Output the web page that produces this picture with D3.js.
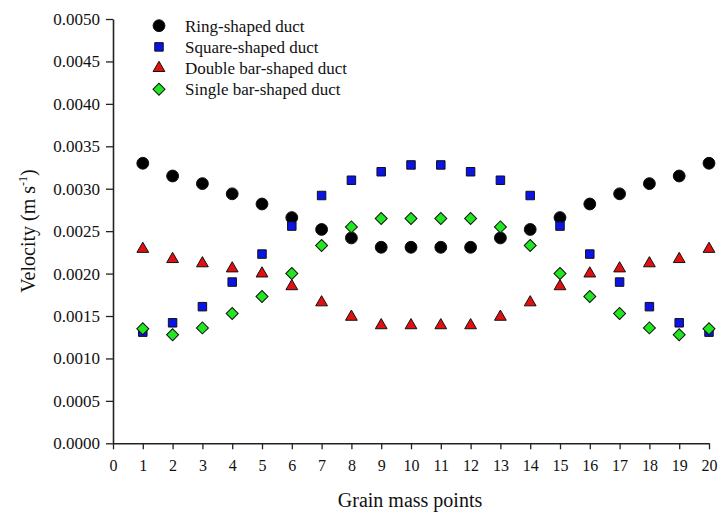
<!DOCTYPE html>
<html>
<head>
<meta charset="utf-8">
<script src="https://cdn.jsdelivr.net/npm/d3@7"></script>
<style>
  html, body { margin: 0; padding: 0; background: #fff; }
  svg { display: block; }
  text { font-family: "Liberation Serif", "Times New Roman", serif; fill: #111; }
</style>
</head>
<body>
<svg id="chart" width="719" height="512"></svg>
<script>
// ---- data ----
const points = [1,2,3,4,5,6,7,8,9,10,11,12,13,14,15,16,17,18,19,20];
const ring   = [0.00330,0.00315,0.00306,0.00294,0.00282,0.00266,0.00252,0.00242,0.00231,0.00231,0.00231,0.00231,0.00242,0.00252,0.00266,0.00282,0.00294,0.00306,0.00315,0.00330];
const square = [0.00131,0.00142,0.00161,0.00190,0.00223,0.00256,0.00292,0.00310,0.00320,0.00328,0.00328,0.00320,0.00310,0.00292,0.00256,0.00223,0.00190,0.00161,0.00142,0.00131];
const dbar   = [0.00229,0.00217,0.00212,0.00206,0.00200,0.00185,0.00166,0.00149,0.00139,0.00139,0.00139,0.00139,0.00149,0.00166,0.00185,0.00200,0.00206,0.00212,0.00217,0.00229];
const sbar   = [0.00135,0.00128,0.00136,0.00153,0.00173,0.00200,0.00233,0.00255,0.00265,0.00265,0.00265,0.00265,0.00255,0.00233,0.00200,0.00173,0.00153,0.00136,0.00128,0.00135];
const seriesNames = ["Ring-shaped duct","Square-shaped duct","Double bar-shaped duct","Single bar-shaped duct"];
const xTicks = [0,1,2,3,4,5,6,7,8,9,10,11,12,13,14,15,16,17,18,19,20];
const yTicks = [0,0.0005,0.0010,0.0015,0.0020,0.0025,0.0030,0.0035,0.0040,0.0045,0.0050];

const series = [
  {name: seriesNames[0], values: ring,   symbol: d3.symbolCircle,   size: 110, rot: 0,  fill: "#000000"},
  {name: seriesNames[1], values: square, symbol: d3.symbolSquare,   size: 72,  rot: 0,  fill: "#0a14e6"},
  {name: seriesNames[2], values: dbar,   symbol: d3.symbolTriangle, size: 60,  rot: 0,  fill: "#e01010"},
  {name: seriesNames[3], values: sbar,   symbol: d3.symbolSquare,   size: 72,  rot: 45, fill: "#22e622"}
];

const svg = d3.select("#chart");
const x = d3.scaleLinear().domain([0, 20]).range([113, 709]);
const y = d3.scaleLinear().domain([0, 0.005]).range([443.3, 19]);

// axes
const xAxis = d3.axisBottom(x).tickValues(xTicks).tickFormat(d3.format("d")).tickSizeInner(6).tickSizeOuter(0).tickPadding(10);
const gx = svg.append("g").attr("transform", `translate(0,${y(0)})`).call(xAxis);
gx.select(".domain").attr("stroke", "#222").attr("stroke-width", 1.6);
gx.selectAll(".tick line").attr("stroke", "#222").attr("stroke-width", 1.3);
gx.selectAll(".tick text").style("font-size", "16px").attr("fill", "#111").attr("font-family", "Liberation Serif");

const yAxis = d3.axisLeft(y).tickValues(yTicks).tickFormat(d3.format(".4f")).tickSizeInner(7).tickSizeOuter(0).tickPadding(6);
const gy = svg.append("g").attr("transform", `translate(${x(0)},0)`).call(yAxis);
gy.select(".domain").attr("stroke", "#222").attr("stroke-width", 1.6);
gy.selectAll(".tick line").attr("stroke", "#222").attr("stroke-width", 1.3);
gy.selectAll(".tick text").style("font-size", "17px").attr("fill", "#111").attr("font-family", "Liberation Serif");

// axis titles
svg.append("text")
  .attr("x", 410).attr("y", 507)
  .attr("text-anchor", "middle")
  .style("font-size", "20px")
  .text("Grain mass points");

const yt = svg.append("text")
  .attr("transform", `translate(35,231) rotate(-90)`)
  .attr("text-anchor", "middle")
  .style("font-size", "20px");
yt.append("tspan").text("Velocity (m s");
yt.append("tspan").attr("dy", -8).style("font-size", "12px").text("-1");
yt.append("tspan").attr("dy", 8).text(")");

// markers
series.forEach(s => {
  svg.append("g").selectAll("path")
    .data(points.map((p, i) => ({p, v: s.values[i]})))
    .join("path")
    .attr("transform", d => `translate(${x(d.p)},${y(d.v)}) rotate(${s.rot})`)
    .attr("d", d3.symbol().type(s.symbol).size(s.size))
    .attr("fill", s.fill)
    .attr("stroke", "#111")
    .attr("stroke-width", 1);
});

// legend
const leg = svg.append("g");
series.forEach((s, i) => {
  const yy = 25.7 + i * 21.2;
  leg.append("path")
    .attr("transform", `translate(159,${yy}) rotate(${s.rot})`)
    .attr("d", d3.symbol().type(s.symbol).size(s.size))
    .attr("fill", s.fill).attr("stroke", "#111").attr("stroke-width", 1);
  leg.append("text")
    .attr("x", 185).attr("y", yy)
    .attr("dy", "0.35em")
    .style("font-size", "17px")
    .text(s.name);
});
</script>
</body>
</html>
